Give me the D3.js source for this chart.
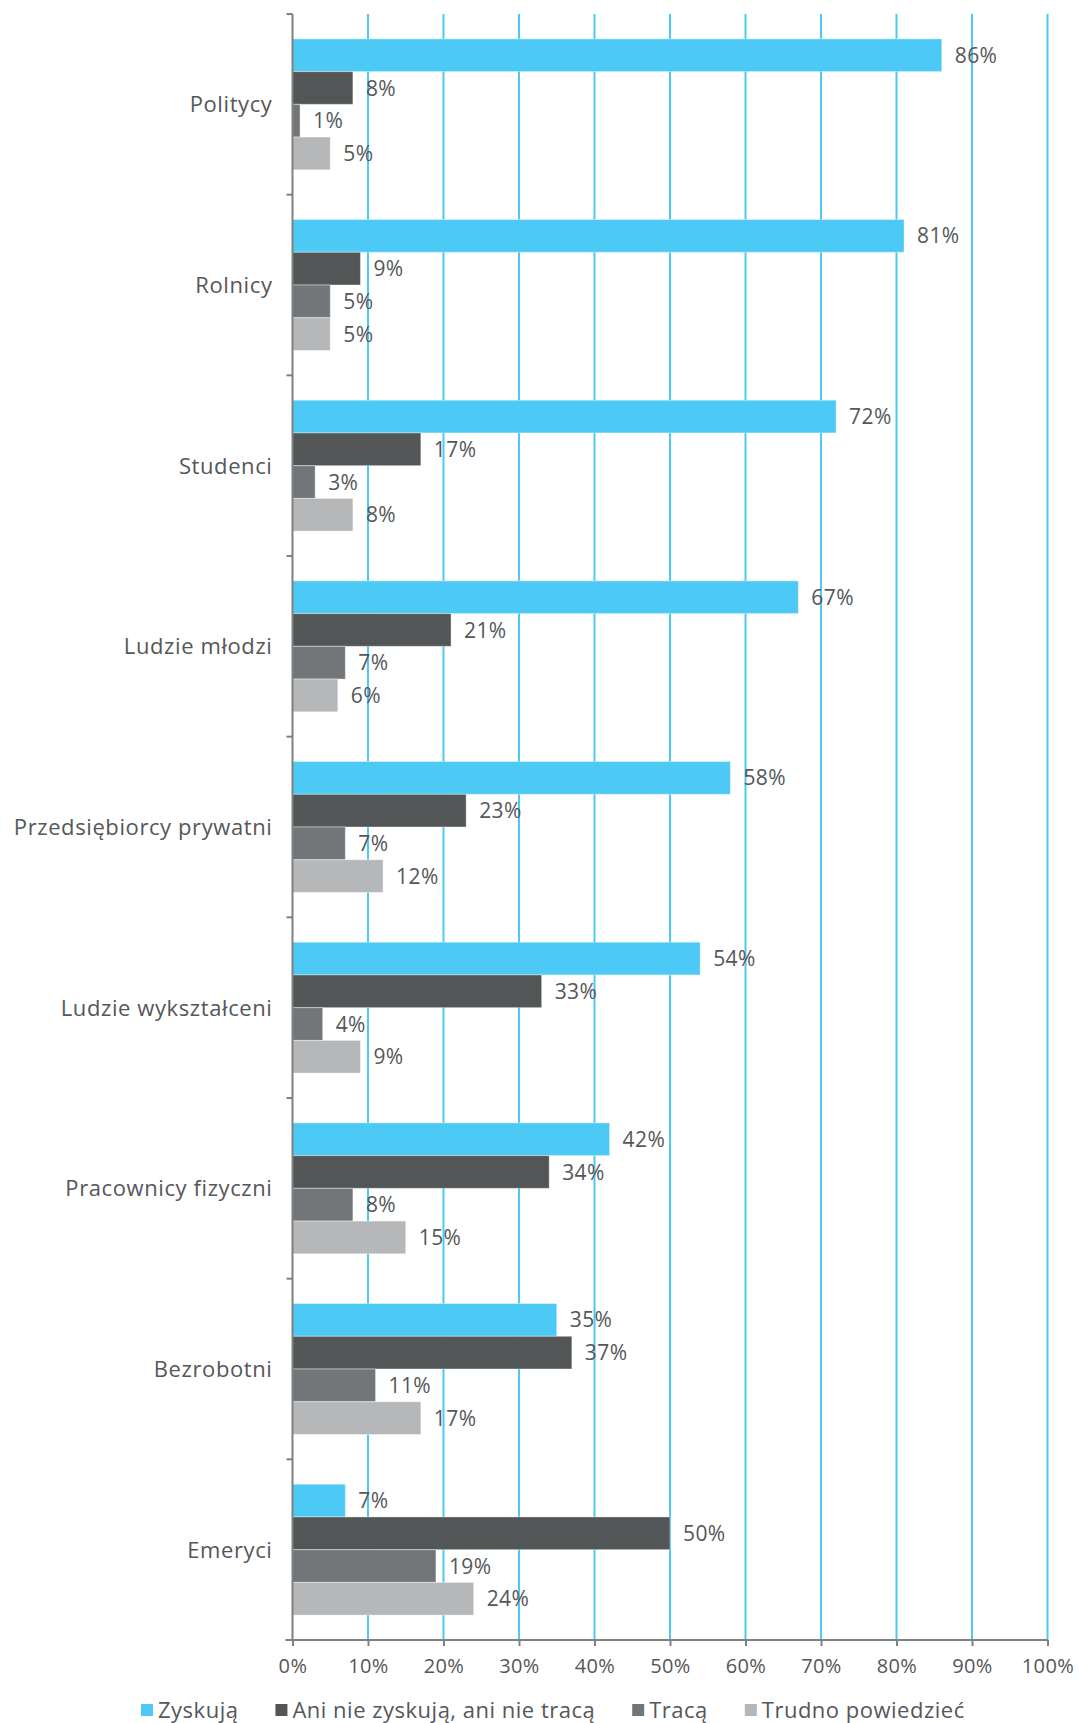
<!DOCTYPE html>
<html>
<head>
<meta charset="utf-8">
<script src="https://cdn.jsdelivr.net/npm/d3@7"></script>
<style>
  body { margin: 0; background: #fff; }
  svg text { font-family: "Open Sans", "Noto Sans", sans-serif; fill: #555759; }
</style>
</head>
<body>
<svg id="drawing_region"></svg>
<script>
// data
const categories = ["Politycy", "Rolnicy", "Studenci", "Ludzie młodzi", "Przedsiębiorcy prywatni",
    "Ludzie wykształceni", "Pracownicy fizyczni", "Bezrobotni", "Emeryci"];
const seriesNames = ["Zyskują", "Ani nie zyskują, ani nie tracą", "Tracą", "Trudno powiedzieć"];
const zyskuja = [86, 81, 72, 67, 58, 54, 42, 35, 7];
const aniNie = [8, 9, 17, 21, 23, 33, 34, 37, 50];
const traca = [1, 5, 3, 7, 7, 4, 8, 11, 19];
const trudno = [5, 5, 8, 6, 12, 9, 15, 17, 24];
const xTicks = [0, 10, 20, 30, 40, 50, 60, 70, 80, 90, 100];
const colors = ["#4cc9f4", "#525657", "#737679", "#b6b7b9"];

const seriesValues = [zyskuja, aniNie, traca, trudno];

const config = {
    width: 1079,
    height: 1723,
    margin: { top: 14, right: 31.5, bottom: 83, left: 292.5 }
};

const svg = d3.select("#drawing_region")
    .attr("width", config.width)
    .attr("height", config.height);

const innerW = config.width - config.margin.left - config.margin.right;
const innerH = config.height - config.margin.top - config.margin.bottom;

const chart = svg.append("g")
    .attr("transform", `translate(${config.margin.left},${config.margin.top})`);

const x = d3.scaleLinear().domain([0, 100]).range([0, innerW]);
const y0 = d3.scaleBand().domain(categories).range([0, innerH]).padding(0);
const y1 = d3.scaleBand().domain(seriesNames)
    .range([0, y0.bandwidth()]).paddingInner(0).paddingOuter(0.76);

// gridlines
chart.selectAll(".grid").data(xTicks.slice(1)).enter()
    .append("line")
    .attr("x1", d => x(d)).attr("x2", d => x(d))
    .attr("y1", 0).attr("y2", innerH)
    .attr("stroke", "#4cc9f4")
    .attr("stroke-width", 2);

// bars
const rows = [];
categories.forEach((c, i) => {
    seriesNames.forEach((s, j) => {
        rows.push({ cat: c, series: s, idx: j, value: seriesValues[j][i] });
    });
});

const groups = chart.selectAll(".row").data(rows).enter()
    .append("g")
    .attr("transform", d => `translate(0,${y0(d.cat) + y1(d.series)})`);

groups.append("rect")
    .attr("x", 0)
    .attr("y", 0)
    .attr("width", d => x(d.value))
    .attr("height", y1.bandwidth())
    .attr("fill", d => colors[d.idx])
    .attr("stroke", "#fff")
    .attr("stroke-opacity", 0.4)
    .attr("stroke-width", 1);

groups.append("text")
    .attr("x", d => x(d.value) + 13)
    .attr("y", y1.bandwidth() / 2)
    .attr("dy", "0.36em")
    .style("font-size", "21px")
    .style("letter-spacing", "0.4px")
    .text(d => d.value + "%");

// left axis: line + ticks at band boundaries
const axisColor = "#808080";
chart.append("line")
    .attr("x1", 0).attr("x2", 0)
    .attr("y1", 0).attr("y2", innerH)
    .attr("stroke", axisColor).attr("stroke-width", 2);

const bounds = categories.map(c => y0(c)).concat([innerH]);
chart.selectAll(".ytick").data(bounds).enter()
    .append("line")
    .attr("x1", -6).attr("x2", 0)
    .attr("y1", d => d).attr("y2", d => d)
    .attr("stroke", axisColor).attr("stroke-width", 2);

chart.selectAll(".ylabel").data(categories).enter()
    .append("text")
    .attr("x", -20)
    .attr("y", d => y0(d) + y0.bandwidth() / 2)
    .attr("dy", "0.36em")
    .attr("text-anchor", "end")
    .style("font-size", "22px")
    .style("letter-spacing", "0.6px")
    .text(d => d);

// bottom axis
const xAxis = chart.append("g")
    .attr("transform", `translate(0,${innerH})`)
    .call(d3.axisBottom(x).tickValues(xTicks).tickSize(6).tickPadding(13)
        .tickFormat(d => d + "%"));
xAxis.select(".domain").remove();
xAxis.append("line")
    .attr("x1", -7).attr("x2", innerW)
    .attr("stroke", axisColor).attr("stroke-width", 2);
xAxis.selectAll(".tick line").attr("stroke", axisColor).attr("stroke-width", 2);
xAxis.selectAll(".tick text")
    .style("font-size", "20px")
    .style("letter-spacing", "0.4px")
    .attr("fill", "#555759");
xAxis.attr("font-family", null).attr("font-size", null);

// legend
const legend = svg.append("g").attr("transform", "translate(141,1710)");
let lx = 0;
seriesNames.forEach((s, j) => {
    const item = legend.append("g").attr("transform", `translate(${lx},0)`);
    item.append("rect")
        .attr("x", 0).attr("y", -6)
        .attr("width", 12).attr("height", 12)
        .attr("fill", colors[j]);
    const t = item.append("text")
        .attr("x", 17)
        .attr("y", 0)
        .attr("dy", "0.36em")
        .style("font-size", "22px")
        .style("letter-spacing", "0.5px")
        .text(s);
    lx += 17 + t.node().getComputedTextLength() + 37;
});
</script>
</body>
</html>
